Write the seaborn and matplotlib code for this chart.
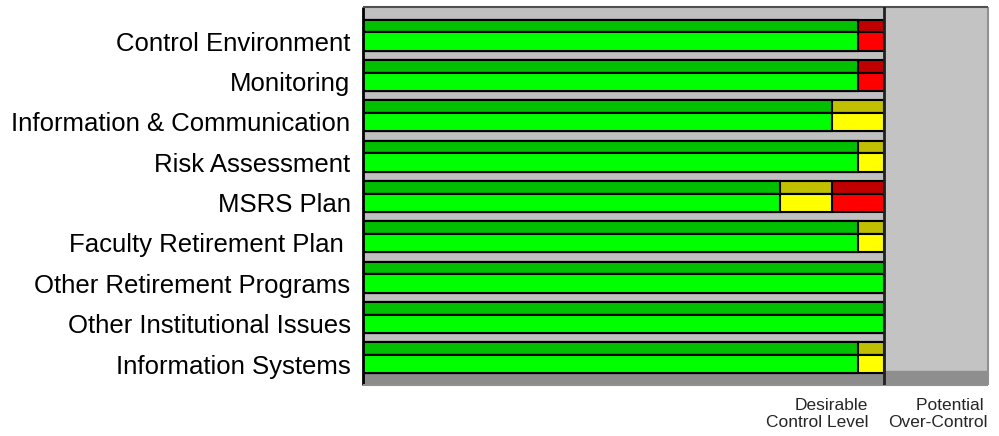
import numpy as np
import pandas as pd
import matplotlib
matplotlib.use("Agg")
import matplotlib.pyplot as plt
import seaborn as sns

# 数据
categories = ["Control Environment", "Monitoring", "Information & Communication",
              "Risk Assessment", "MSRS Plan", "Faculty Retirement Plan ",
              "Other Retirement Programs", "Other Institutional Issues",
              "Information Systems"]
green = [95, 95, 90, 95, 80, 95, 100, 100, 95]
yellow = [0, 0, 10, 5, 10, 5, 0, 0, 5]
red = [5, 5, 0, 0, 10, 0, 0, 0, 0]

desirable_level = 100
axis_max = 120

sns.set_style("white")
plt.rcParams['font.family'] = ['Liberation Sans', 'DejaVu Sans']

df = pd.DataFrame({"category": categories, "green": green,
                   "yellow": yellow, "red": red})
df["pos"] = np.arange(len(df))
df["to_yellow"] = df["green"] + df["yellow"]
df["to_red"] = df["to_yellow"] + df["red"]

fig = plt.figure(figsize=(9.99, 4.36), dpi=100)
ax = fig.add_axes([363 / 999, 1 - 385 / 436, 625 / 999, 378 / 436])

y_top = -0.65
y_bottom = 8.72
ax.set_facecolor("#c0c0c0")

# 右侧 "过度控制" 区域和底部地板
ax.axvspan(desirable_level, axis_max, color="#c3c3c3", zorder=0)
ax.axhspan(8.43, y_bottom, xmin=0, xmax=desirable_level / axis_max,
           color="#8c8c8c", zorder=0.5)
ax.axhspan(8.37, y_bottom, xmin=desirable_level / axis_max, xmax=1,
           color="#8e8e8e", zorder=0.5)

# 每个条形: 上面暗色条 + 下面亮色条 (伪3D)
strips = [(-0.18, 0.32, ["#c00000", "#c0c000", "#00c000"]),
          (0.205, 0.45, ["#ff0000", "#ffff00", "#00ff00"])]
for off, h, cols in strips:
    for col, c in zip(["to_red", "to_yellow", "green"], cols):
        sns.barplot(x=df[col], y=df["pos"] + off, orient="h", native_scale=True,
                    width=h, color=c, saturation=1, edgecolor="black",
                    linewidth=1.5, errorbar=None, ax=ax, zorder=2)

ax.axvline(desirable_level, color="#202020", lw=2, zorder=3)

ax.set_xlim(0, axis_max)
ax.set_ylim(y_bottom, y_top)
ax.set_xticks([])
ax.set_yticks(df["pos"] + 0.2)
ax.set_yticklabels(categories)
ax.tick_params(axis="y", length=0, pad=9, labelsize=18.5, labelcolor="black")
ax.set_xlabel("")
ax.set_ylabel("")

for s in ["top", "right", "bottom"]:
    ax.spines[s].set_color("#909090")
    ax.spines[s].set_linewidth(1.5)
ax.spines["top"].set_color("#505050")
ax.spines["left"].set_color("black")
ax.spines["left"].set_linewidth(2)
for s in ax.spines.values():
    s.set_capstyle("butt")

tr = ax.get_xaxis_transform()
ax.text(97, -0.035, "Desirable\nControl Level", transform=tr, ha="right",
        va="top", fontsize=12.5, multialignment="right", linespacing=1.15)
ax.text(120, -0.035, "Potential \nOver-Control", transform=tr, ha="right",
        va="top", fontsize=12.5, multialignment="right", linespacing=1.15)

plt.savefig("out.png", dpi=100)
